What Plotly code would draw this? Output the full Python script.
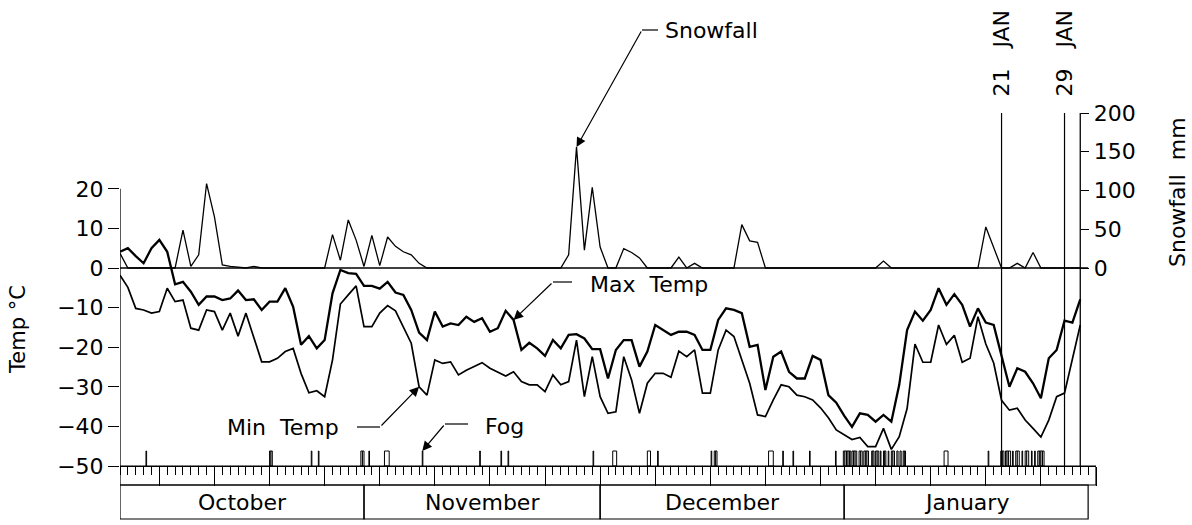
import plotly.graph_objects as go

# ---------------- data ----------------
days = list(range(123))  # 0 = 1 Oct ... 122 = 31 Jan
max_temp = [
    4.1, 5.0, 3.0, 1.2, 5.0, 7.1, 4.1, -4.1, -3.5, -6.0,
    -9.3, -7.2, -7.2, -8.1, -7.7, -5.7, -8.1, -7.9, -10.6, -8.5,
    -8.5, -5.1, -9.8, -19.4, -17.2, -20.3, -18.2, -6.4, -0.5, -1.3,
    -1.5, -4.5, -4.5, -5.2, -3.5, -6.2, -6.8, -10.6, -16.3, -18.2,
    -11.0, -14.8, -14.0, -14.4, -12.3, -13.6, -12.7, -16.1, -15.2, -10.8,
    -13.1, -20.7, -18.9, -20.3, -22.2, -18.2, -20.3, -16.9, -16.7, -17.8,
    -20.5, -20.5, -27.9, -20.7, -18.2, -18.2, -24.9, -21.1, -14.4, -15.7,
    -16.9, -16.1, -16.1, -16.9, -20.7, -20.7, -13.1, -10.2, -10.6, -11.4,
    -19.9, -19.4, -30.8, -22.4, -21.1, -26.2, -27.9, -27.9, -22.2, -23.2,
    -32.1, -34.0, -37.3, -40.1, -36.7, -37.1, -38.8, -37.1, -38.8, -29.5,
    -15.7, -11.0, -13.3, -10.6, -5.1, -9.3, -6.6, -9.3, -14.8, -10.2,
    -13.8, -14.4, -22.4, -30.0, -25.3, -26.2, -29.1, -32.9, -22.8, -20.7,
    -13.3, -13.8, -7.9,
]
min_temp = [
    -1.8, -4.9, -10.2, -10.6, -11.4, -11.0, -5.1, -8.5, -8.1, -15.2,
    -15.7, -10.6, -11.0, -15.7, -11.4, -17.2, -11.4, -17.3, -23.7, -23.7,
    -22.8, -21.1, -20.3, -26.6, -31.5, -31.0, -32.5, -23.2, -9.1, -6.8,
    -4.5, -14.8, -14.8, -11.4, -9.5, -10.8, -14.8, -19.0, -30.0, -32.1,
    -23.2, -24.1, -23.7, -27.0, -25.8, -24.9, -23.9, -25.3, -26.2, -27.3,
    -26.2, -28.7, -29.5, -29.5, -31.2, -27.0, -29.5, -28.7, -18.2, -32.5,
    -22.4, -32.5, -36.7, -36.3, -22.4, -28.3, -36.7, -29.1, -26.6, -26.6,
    -27.6, -21.0, -22.4, -20.7, -31.6, -31.6, -20.7, -15.7, -17.3, -23.2,
    -29.1, -37.1, -37.5, -33.3, -29.5, -30.0, -32.1, -32.5, -33.3, -35.3,
    -37.8, -40.9, -42.2, -43.3, -42.8, -45.1, -45.1, -40.5, -45.8, -42.6,
    -35.5, -19.2, -23.8, -23.8, -14.4, -19.3, -17.0, -23.8, -22.8, -12.3,
    -19.2, -24.0, -33.4, -35.9, -35.4, -38.4, -40.5, -42.7, -38.4, -32.5,
    -31.6, -23.0, -14.4,
]
snowfall = [
    19, 0, 0, 0, 0, 0, 0, 0, 49, 2,
    17, 109, 66, 4, 2, 1, 0, 2, 0, 0,
    0, 0, 0, 0, 0, 0, 0, 43, 10, 62,
    36, 2, 42, 3, 40, 28, 21, 17, 6, 0,
    0, 0, 0, 0, 0, 0, 0, 0, 0, 0,
    0, 0, 0, 0, 0, 0, 0, 17, 156, 23,
    104, 27, 0, 0, 25, 20, 13, 0, 0, 0,
    0, 14, 0, 6, 0, 0, 0, 0, 0, 56,
    35, 33, 0, 0, 0, 0, 0, 0, 0, 0,
    0, 0, 0, 0, 0, 0, 0, 9, 0, 0,
    0, 0, 0, 0, 0, 0, 0, 0, 0, 0,
    53, 27, 0, 0, 6, 0, 20, 0, 0, 0,
    0, 0, 0,
]
fog_start = [
    3.30, 19.00, 19.18, 24.30, 25.20, 30.60, 30.80, 31.62, 33.60, 38.40,
    45.70, 48.40, 49.30, 60.10, 62.60, 67.00, 68.30, 75.10, 75.50, 75.68,
    82.40, 84.20, 85.50, 87.60, 90.90,
    91.90, 92.10, 92.30, 92.50, 92.70, 93.00, 93.20, 93.40, 93.90, 94.10,
    94.50, 94.70, 94.90, 95.50, 95.65, 96.00, 96.20, 96.60, 97.00, 97.15,
    97.60, 98.00, 98.20, 98.70, 99.10, 99.50, 99.65,
    104.70, 110.30,
    111.90, 112.10, 112.50, 112.70, 112.90, 113.40, 113.80, 114.00, 114.60, 115.00,
    115.20, 115.80, 116.20, 116.60, 116.80, 117.00, 117.20,
]
fog_end = [
    3.38, 19.18, 19.35, 24.38, 25.28, 30.80, 31.00, 31.70, 34.20, 38.48,
    45.78, 48.48, 49.38, 60.18, 63.10, 67.40, 68.38, 75.18, 75.68, 75.85,
    83.00, 84.28, 85.58, 87.68, 90.98,
    92.10, 92.30, 92.50, 92.70, 92.85, 93.20, 93.40, 93.60, 94.10, 94.30,
    94.70, 94.90, 95.10, 95.65, 95.80, 96.20, 96.40, 96.68, 97.15, 97.30,
    97.68, 98.20, 98.40, 98.85, 99.25, 99.65, 99.80,
    105.20, 110.38,
    112.10, 112.30, 112.70, 112.90, 113.15, 113.48, 114.00, 114.25, 114.68, 115.20,
    115.45, 115.88, 116.28, 116.80, 117.00, 117.20, 117.40,
]
months = ["October", "November", "December", "January"]
month_start = [0, 31, 61, 92]
month_end = [31, 61, 92, 123]
temp_ticks = [20, 10, 0, -10, -20, -30, -40, -50]
snow_ticks = [0, 50, 100, 150, 200]
event_days = [112, 120]
event_labels = ["21\u00a0\u00a0\u00a0JAN", "29\u00a0\u00a0\u00a0JAN"]

# ---------------- geometry ----------------
W, H = 1192, 525
X0, X1, DAYMAX = 120, 1096, 124
Y0, PXT, PXS = 268, 3.96, 0.775  # zero line pixel, px per degC, px per mm

def t_of(pix):
    return (Y0 - pix) / PXT

def px_of_day(d):
    return X0 + d * (X1 - X0) / DAYMAX

t_low = min(temp_ticks)
t_top = max(temp_ticks)
s_top = max(snow_ticks)
t_low_in_mm = t_low * PXT / PXS
ruler_bot = t_of(485)
box_bot = t_of(519)
fog_top = t_of(451)

FONT = dict(family="DejaVu Sans", size=22, color="black")
BLACK = "black"

fig = go.Figure()

# fog bars
fig.add_trace(go.Bar(
    x=[(a + b) / 2 for a, b in zip(fog_start, fog_end)],
    y=[fog_top - t_low] * len(fog_start),
    base=t_low,
    width=[b - a for a, b in zip(fog_start, fog_end)],
    marker=dict(color="white", line=dict(color=BLACK, width=1)),
    xaxis="x", yaxis="y", hoverinfo="skip",
))
# temperature lines
fig.add_trace(go.Scatter(x=days, y=min_temp, mode="lines",
                         line=dict(color=BLACK, width=1.7), name="Min Temp"))
fig.add_trace(go.Scatter(x=days, y=max_temp, mode="lines",
                         line=dict(color=BLACK, width=2.3), name="Max Temp"))
# snowfall
fig.add_trace(go.Scatter(x=days, y=snowfall, mode="lines", yaxis="y2",
                         line=dict(color=BLACK, width=1.3), name="Snowfall"))

shapes = []
# left axis line
shapes.append(dict(type="line", xref="x", yref="y", x0=0, x1=0, y0=t_low, y1=t_top,
                   line=dict(color=BLACK, width=1.3)))
# right axis line (snowfall axis, extended down)
shapes.append(dict(type="line", xref="x", yref="y2", x0=days[-1], x1=days[-1],
                   y0=t_low_in_mm, y1=s_top, line=dict(color=BLACK, width=1.3)))
# zero line
shapes.append(dict(type="line", xref="x", yref="y", x0=0, x1=month_end[-1], y0=0, y1=0,
                   line=dict(color=BLACK, width=1.6)))
# event lines
for d in event_days:
    shapes.append(dict(type="line", xref="x", yref="y2", x0=d, x1=d,
                       y0=t_low_in_mm, y1=s_top, line=dict(color=BLACK, width=1.2)))
# ruler box
shapes.append(dict(type="rect", xref="x", yref="y", x0=0, x1=DAYMAX, y0=t_low, y1=ruler_bot,
                   line=dict(color=BLACK, width=1.2)))
# month boxes
for a, b in zip(month_start, month_end):
    shapes.append(dict(type="rect", xref="x", yref="y", x0=a, x1=b, y0=ruler_bot, y1=box_bot,
                       line=dict(color=BLACK, width=1.2)))

# leader elbows (paper coords)
def hseg(xa, xb, ypix):
    return dict(type="line", xref="paper", yref="paper", x0=xa / W, x1=xb / W,
                y0=1 - ypix / H, y1=1 - ypix / H, line=dict(color=BLACK, width=1.2))
shapes += [hseg(642, 658, 30), hseg(553, 572, 282), hseg(357, 380, 427), hseg(445, 468, 424)]

annotations = []
def label(txt, xpix, ypix, angle=0, size=22):
    f = dict(FONT); f["size"] = size
    annotations.append(dict(text=txt, x=xpix / W, y=1 - ypix / H, xref="paper", yref="paper",
                            showarrow=False, textangle=angle, font=f,
                            xanchor="center", yanchor="middle"))

for m, a, b in zip(months, month_start, month_end):
    annotations.append(dict(text=m, x=(a + b) / 2, y=(ruler_bot + box_bot) / 2, xref="x", yref="y",
                            showarrow=False, font=FONT, xanchor="center", yanchor="middle"))
for d, lab in zip(event_days, event_labels):
    annotations.append(dict(text=lab, x=d, y=1 - 53 / H, xref="x", yref="paper",
                            showarrow=False, textangle=-90, font=FONT,
                            xanchor="center", yanchor="middle"))

label("Temp\u00a0\u00b0C", 18, 330, angle=-90, size=21)
label("Snowfall\u00a0\u00a0mm", 1178, 192, angle=-90)
label("Snowfall", 711, 30)
label("Max\u00a0\u00a0Temp", 649, 284)
label("Min\u00a0\u00a0Temp", 283, 427)
label("Fog", 504, 426)

def arrow(x, y, yref, ax, ay):
    annotations.append(dict(text="", x=x, y=y, xref="x", yref=yref, ax=ax, ay=ay,
                            showarrow=True, arrowhead=2, arrowsize=1.6, arrowwidth=1.2,
                            arrowcolor=BLACK, standoff=0))

pk = snowfall.index(max(snowfall))
arrow(pk, snowfall[pk], "y2", 642 - px_of_day(pk), 30 - (Y0 - snowfall[pk] * PXS))
arrow(50, max_temp[50], "y", 553 - px_of_day(50), 282 - (Y0 - max_temp[50] * PXT))
arrow(38, min_temp[38], "y", 380 - px_of_day(38), 427 - (Y0 - min_temp[38] * PXT))
arrow(fog_start[9], fog_top, "y", 445 - px_of_day(fog_start[9]), 424 - (Y0 - fog_top * PXT))

fig.update_layout(
    width=W, height=H, margin=dict(l=0, r=0, t=0, b=0, pad=0),
    paper_bgcolor="white", plot_bgcolor="white", showlegend=False,
    barmode="overlay", font=FONT,
    xaxis=dict(domain=[X0 / W, X1 / W], range=[0, DAYMAX], anchor="free",
               position=1 - (Y0 - t_low * PXT) / H, automargin=False,
               showline=True, linecolor=BLACK, linewidth=1.2, showgrid=False, zeroline=False,
               ticks="outside", tickmode="linear", tick0=5, dtick=7, ticklen=19,
               tickwidth=1, tickcolor=BLACK, showticklabels=False,
               minor=dict(ticks="outside", tick0=0, dtick=1, ticklen=8, tickwidth=1,
                          tickcolor=BLACK, showgrid=False)),
    yaxis=dict(range=[t_of(H), t_of(0)], domain=[0, 1], anchor="x", showline=False,
               automargin=False,
               showgrid=False, zeroline=False, tickmode="array", tickvals=temp_ticks,
               ticks="outside", ticklen=11, tickwidth=1.2, tickcolor=BLACK,
               tickfont=FONT),
    yaxis2=dict(range=[(Y0 - H) / PXS, Y0 / PXS], overlaying="y", side="right",
                anchor="free", position=px_of_day(days[-1]) / W, showline=False,
                automargin=False,
                showgrid=False, zeroline=False, tickmode="array", tickvals=snow_ticks,
                ticks="outside", ticklen=8, tickwidth=1.2, tickcolor=BLACK, tickfont=FONT),
    shapes=shapes, annotations=annotations,
)

fig.write_html("out.html", config={"displayModeBar": False},
               post_script="document.body.style.margin='0';document.body.style.overflow='hidden';")
